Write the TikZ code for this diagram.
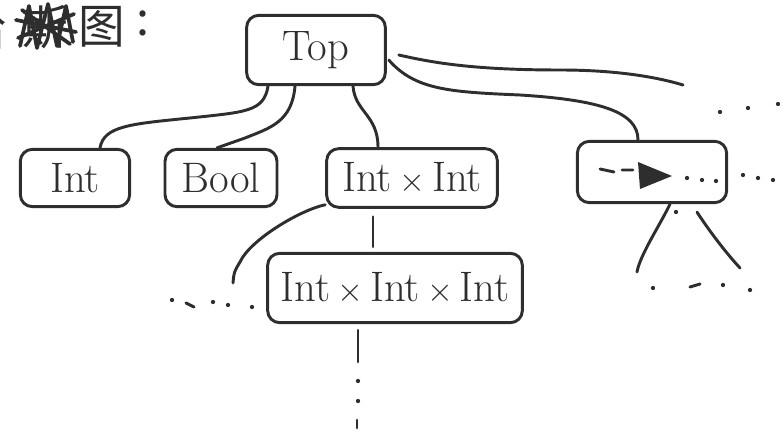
\documentclass[tikz,border=0pt]{standalone}
\usepackage{fontspec}
\newfontfamily\cjk{Noto Sans CJK SC}
\usetikzlibrary{calc}

\begin{document}
\begin{tikzpicture}[x=0.75pt,y=-0.75pt,
  ink/.style={line width=2.2pt, line cap=round, line join=round, draw=black!82},
  tbox/.style={ink, rounded corners=9pt, inner sep=0pt, text=black!82,
    font=\fontsize{32}{34}\selectfont},
  dotmark/.style={fill=black!82, circle, inner sep=0pt, minimum size=3.2pt},
  hand/.style={text=black!82, inner sep=0pt, font=\cjk\fontsize{35}{37}\selectfont},
]
\useasboundingbox (0,0) rectangle (783,438);

% heading, first character running off the left edge, second one crossed out
\node[hand] (c1) at (-16,28) {哈};
\node[hand] (c2) at (45,27) {斯};
\draw[ink, line width=2.8pt] (20,46) -- (29,6) -- (37,48) -- (48,4) -- (57,46) -- (66,6) -- (73,42)
  (16,20) -- (76,32) (18,38) -- (74,14) (22,10) -- (70,44);
\node[hand] (c3) at (102,27) {图};
\node[hand] (c4) at (143,23) {:};

% lattice nodes
\node[tbox, minimum width=104pt, minimum height=52pt] (top) at (316,50) {Top};
\node[tbox, minimum width=82pt, minimum height=43pt] (int) at (75,178) {Int};
\node[tbox, minimum width=84pt, minimum height=43pt] (bool) at (221,178) {Bool};
\node[tbox, minimum width=128pt, minimum height=44pt] (ii) at (412,178) {Int\,$\times$\,Int};
\node[tbox, minimum width=112pt, minimum height=46pt] (other) at (652,172) {};
\node[tbox, minimum width=191pt, minimum height=52pt] (iii) at (395,288) {Int\,$\times$\,Int\,$\times$\,Int};

% edges out of Top
\draw[ink] ($(top.south)+(-48,0)$) .. controls (264,112) and (245,112) .. (190,118)
  .. controls (130,124) and (104,126) .. ($(int.north)+(25,0)$);
\draw[ink] ($(top.south)+(-21,0)$) .. controls (292,122) and (270,128) .. (245,138)
  .. controls (228,144) .. ($(bool.north)+(-4,0)$);
\draw[ink] ($(top.south)+(37,0)$) .. controls (355,112) and (378,115) .. ($(ii.north)+(-34,0)$);
\draw[ink] ($(top.east)+(2,10)$) .. controls (415,90) and (450,92) .. (520,95)
  .. controls (600,100) and (638,112) .. ($(other.north)+(-14,0)$);
\coordinate (far) at (683,85);
\draw[ink] ($(top.east)+(12,5)$) .. controls (430,62) and (470,70) .. (560,70)
  .. controls (620,70) and (660,78) .. (far);
\foreach \p in {(720,112),(748,108),(778,104)} \node[dotmark] at \p {};

% contents of the elided node
\draw[ink] (600,169) -- (614,172) (622,170) -- (633,170);
\fill[black!82] (638,162) -- (672,176) -- (640,189) -- cycle;
\foreach \p in {(687,178),(702,180),(716,181)} \node[dotmark] at \p {};
\foreach \p in {(743,175),(758,178),(773,180)} \node[dotmark] at \p {};
\coordinate (bl) at (637,272);
\coordinate (br) at (740,268);
\draw[ink] ($(other.south)+(18,0)$) .. controls (660,225) and (640,255) .. (bl);
\draw[ink] ($(other.south)+(45,8)$) .. controls (712,235) and (728,255) .. (br);
\node[dotmark] at (676,212) {};
\node[dotmark] at (653,288) {};
\draw[ink] (690,287) -- (700,284);
\node[dotmark] at (723,285) {};
\node[dotmark] at (750,290) {};

% chain below Int x Int
\draw[ink] ($(ii.south)+(-39,8)$) -- ($(iii.north)+(-22,-5)$);
\coordinate (lend) at (233,283);
\draw[ink] ($(ii.south west)+(0,-4)$) .. controls (300,210) and (250,240) .. (240,262)
  .. controls (234,272) .. (lend);
\foreach \p in {(172,300),(213,302),(228,305),(252,307)} \node[dotmark] at \p {};
\draw[ink] (186,303) -- (194,307);
\coordinate (down) at (358,362);
\draw[ink] ($(iii.south)+(-37,6)$) -- (down);
\node[dotmark] at (358,381) {};
\node[dotmark] at (358,401) {};
\draw[ink] (357,420) -- (357,428);
\end{tikzpicture}
\end{document}
